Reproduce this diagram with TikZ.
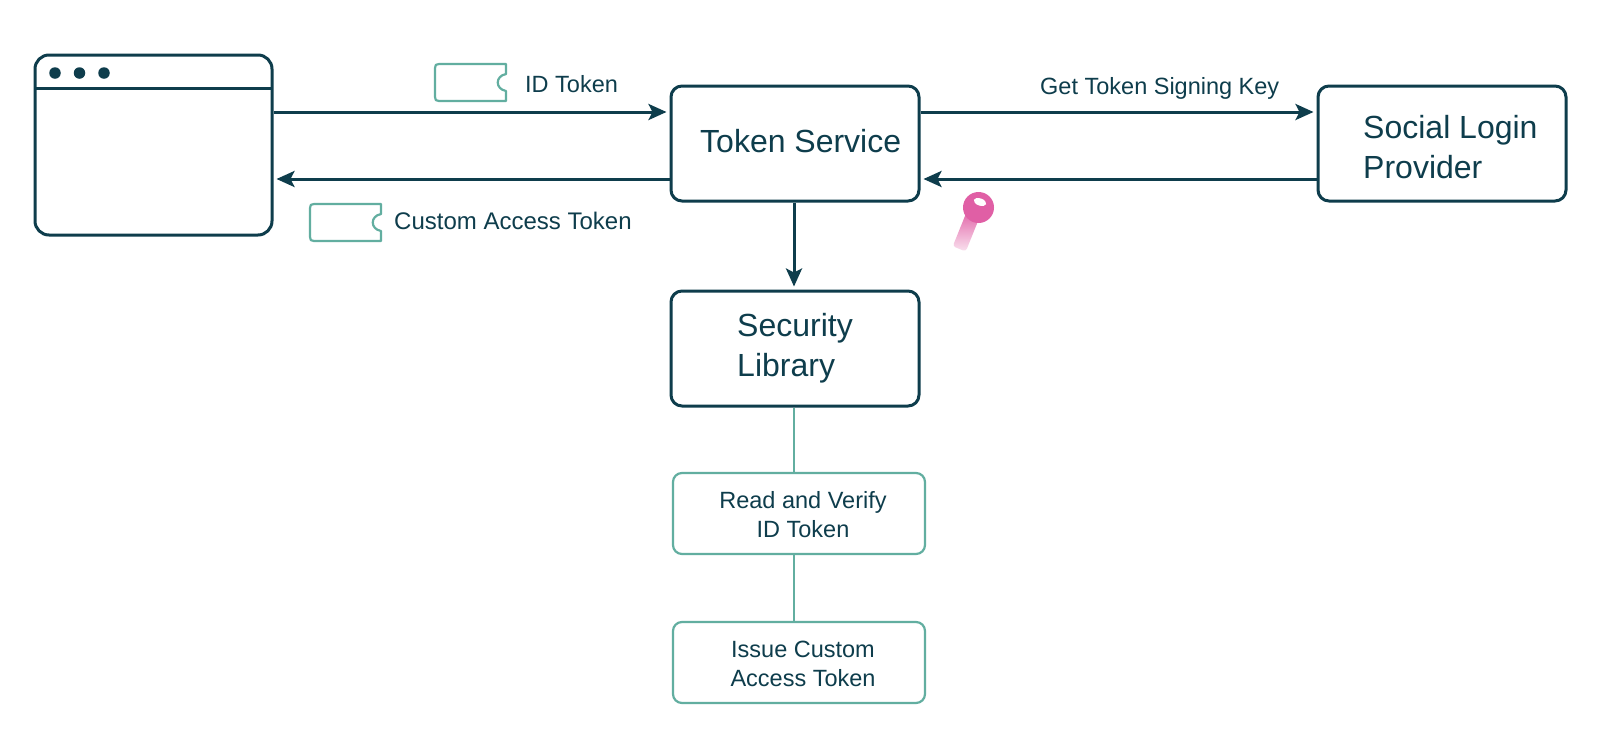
\documentclass[tikz,border=0pt]{standalone}
\usepackage{fontspec}
\setmainfont{Liberation Sans}
\usetikzlibrary{arrows.meta}
\definecolor{ink}{HTML}{0E3D4C}
\definecolor{tealline}{HTML}{62AEA0}
\definecolor{keypink}{HTML}{E05FA5}
\tikzset{
  bigbox/.style={draw=ink,line width=3pt,rounded corners=11pt,minimum width=248pt,minimum height=115pt,inner sep=0pt},
  smallbox/.style={draw=tealline,line width=2.2pt,rounded corners=9pt,minimum width=252pt,minimum height=81pt,inner sep=0pt},
  bigtext/.style={text=ink,font=\fontsize{32}{39.5}\selectfont,align=left,inner sep=0pt,anchor=west},
  smalltext/.style={text=ink,font=\fontsize{23.5}{29}\selectfont,align=center,inner sep=0pt},
  edgetext/.style={text=ink,font=\fontsize{23.5}{26}\selectfont,inner sep=0pt},
  flow/.style={draw=ink,line width=3pt,-{Stealth[length=18pt,width=16pt,inset=4pt]},shorten >=3pt},
  plainlink/.style={draw=tealline,line width=2.2pt},
  ticket/.style={draw=tealline,line width=2.2pt,line join=round},
}
\newcommand{\ticketshape}[2]{%
  \draw[ticket] (#1+4,#2) -- (#1+71,#2) -- (#1+71,#2+10)
    .. controls (#1+60,#2+12) and (#1+60,#2+25) .. (#1+71,#2+27)
    -- (#1+71,#2+37) -- (#1+4,#2+37)
    .. controls (#1+1,#2+37) and (#1,#2+36) .. (#1,#2+33)
    -- (#1,#2+4) .. controls (#1,#2+1) and (#1+1,#2) .. (#1+4,#2) -- cycle;}
\begin{document}
\begin{tikzpicture}[x=1pt,y=-1pt]
\useasboundingbox[fill=white] (0,0) rectangle (1600,750);
% browser
\node[bigbox,minimum width=237pt,minimum height=180pt,rounded corners=14pt] (browser) at (153.5,145) {};
\coordinate (hl) at (35,88);
\coordinate (hr) at (272,88);
\draw[draw=ink,line width=3pt] (hl) -- (hr);
\foreach \n/\x in {d1/55,d2/79.5,d3/104}{\node[circle,fill=ink,minimum size=11.5pt,inner sep=0pt] (\n) at (\x,73) {};}
% boxes
\node[bigbox] (svc) at (795,143.5) {};
\node[bigbox] (social) at (1442,143.5) {};
\node[bigbox] (sec) at (795,348.5) {};
\node[smallbox] (read) at (799,513.5) {};
\node[smallbox] (issue) at (799,662.5) {};
% box texts
\node[bigtext] (svct) at (700,141) {Token Service};
\node[bigtext] (socialt) at (1363,147) {Social Login\\Provider};
\node[bigtext] (sect) at (737,348) {Security\\Library};
\node[smalltext] (readt) at (803,515) {Read and Verify\\ID Token};
\node[smalltext] (issuet) at (803,664) {Issue Custom\\Access Token};
% connectors
\path[flow] (browser.east |- 0,112) -- (svc.west |- 0,112);
\path[flow] (svc.west |- 0,179) -- (browser.east |- 0,179);
\path[flow] (svc.east |- 0,112) -- (social.west |- 0,112);
\path[flow] (social.west |- 0,179) -- (svc.east |- 0,179);
\path[flow] (svc.south -| 794,0) -- (sec.north -| 794,0);
\path[plainlink] (sec.south -| 794,0) -- (read.north -| 794,0);
\path[plainlink] (read.south -| 794,0) -- (issue.north -| 794,0);
% tickets and labels
\ticketshape{435}{64}
\ticketshape{310}{204}
\node[edgetext,anchor=base west] (idt) at (525,92) {ID Token};
\node[edgetext,anchor=base west,font=\fontsize{24}{26}\selectfont] (cat) at (394,229) {Custom Access Token};
\node[edgetext,anchor=base west] (gtk) at (1040,94) {Get Token Signing Key};
% key
\begin{scope}[shift={(960,247)},rotate=-22]
  \shade[bottom color=keypink!18,top color=keypink,shading angle=0,rounded corners=3pt] (-7,-38) rectangle (7,2);
\end{scope}
\fill[keypink] (978.5,207.5) circle (15.5);
\fill[white,rotate around={-20:(980,202)}] (980,202) ellipse (6.5 and 3.6);
\end{tikzpicture}
\end{document}
